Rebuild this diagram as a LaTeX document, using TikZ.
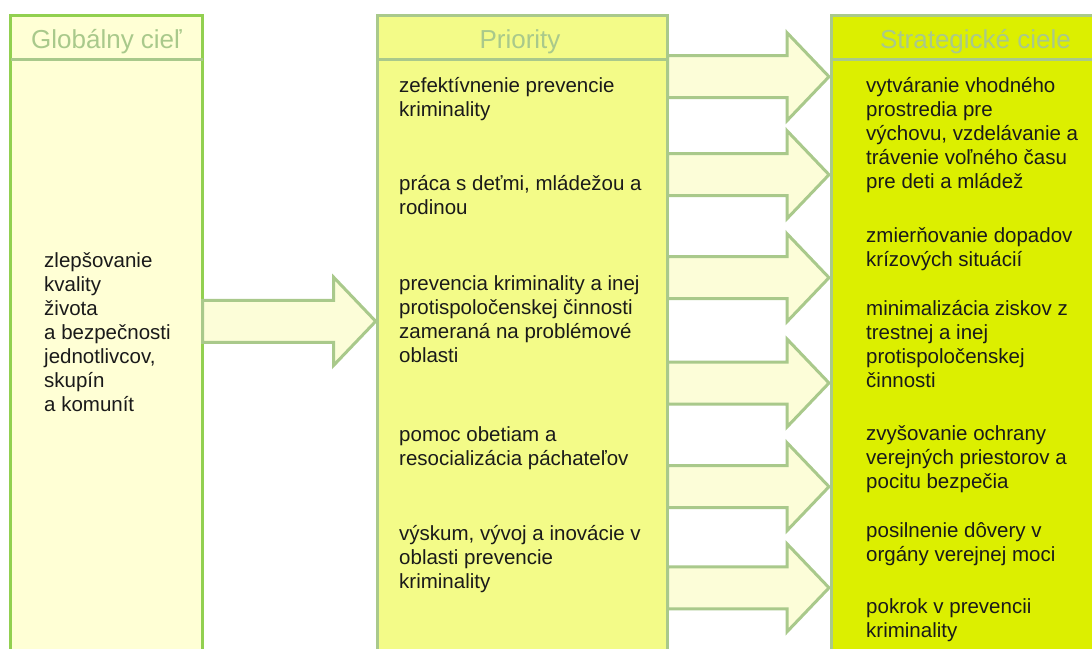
\documentclass[tikz,border=0pt]{standalone}
\usepackage{fontspec}
\setmainfont{Liberation Sans}
\usetikzlibrary{calc}
\definecolor{grayline}{HTML}{A9C98B}
\definecolor{brightline}{HTML}{92D050}
\definecolor{leftfill}{HTML}{FFFFD5}
\definecolor{arrfill}{HTML}{FCFDD8}
\definecolor{midfill}{HTML}{F3FB88}
\definecolor{rightfill}{HTML}{DCEF00}
\definecolor{headtext}{HTML}{A9C98B}
\definecolor{bodytext}{HTML}{1A1A1A}
\tikzset{
  colbox/.style={line width=3pt, inner sep=0pt, outer sep=0pt, anchor=north west},
  headline/.style={draw=grayline, line width=3pt},
  headlabel/.style={anchor=base, text=headtext, font=\fontsize{26}{30}\selectfont, inner sep=0pt},
  bodylabel/.style={anchor=base west, align=left, text=bodytext, font=\fontsize{20.5}{24}\selectfont, inner sep=0pt},
  arrowsty/.style={draw=grayline, fill=arrfill, line width=3pt, line join=miter}
}
\newcommand\blockarr[3]{%
  \draw[arrowsty] let \p1=(#1 |- 0,#3), \p2=(#2 |- 0,#3) in
   (\x1,\y1+21pt) -- (\x2-44pt,\y1+21pt) -- (\x2-44pt,\y1+44pt) -- (\x2-2pt,\y1)
   -- (\x2-44pt,\y1-44pt) -- (\x2-44pt,\y1-21pt) -- (\x1,\y1-21pt) -- cycle;}
\begin{document}
\begin{tikzpicture}[x=1pt,y=-1pt]
\useasboundingbox (0,0) rectangle (1092,648);
\clip (0,0) rectangle (1092,648);
\fill[white] (0,0) rectangle (1092,648);
% column boxes
\node[colbox, draw=brightline, fill=leftfill, minimum width=192pt, minimum height=700pt] (g) at (10.5,15.5) {};
\node[colbox, draw=grayline, fill=midfill, minimum width=290pt, minimum height=700pt] (m) at (377.7,15.7) {};
\node[colbox, draw=grayline, fill=rightfill, minimum width=290pt, minimum height=700pt] (s) at (831,15.7) {};
% header separators
\draw[headline] (g.west |- 0,59.7) -- (g.east |- 0,59.7);
\draw[headline] (m.west |- 0,59.7) -- (m.east |- 0,59.7);
\draw[headline] (s.west |- 0,59.7) -- (s.east |- 0,59.7);
% headers
\node[headlabel] (gh) at (106.5,48.3) {Globálny cieľ};
\node[headlabel] (mh) at (520,48.3) {Priority};
\node[headlabel] (sh) at (975.5,48.3) {Strategické ciele};
% arrows
\blockarr{g.east}{m.west}{321.3}
\blockarr{m.east}{s.west}{76.7}
\blockarr{m.east}{s.west}{174.7}
\blockarr{m.east}{s.west}{277.7}
\blockarr{m.east}{s.west}{383}
\blockarr{m.east}{s.west}{486.7}
\blockarr{m.east}{s.west}{587.8}
% texts (anchor = baseline of the last line)
\node[bodylabel] (gt) at (44,411) {zlepšovanie\\kvality\\života\\a bezpečnosti\\jednotlivcov,\\skupín\\a komunít};
\node[bodylabel] (p1) at (399,116) {zefektívnenie prevencie\\kriminality};
\node[bodylabel] (p2) at (399,214) {práca s deťmi, mládežou a\\rodinou};
\node[bodylabel] (p3) at (399,362) {prevencia kriminality a inej\\protispoločenskej činnosti\\zameraná na problémové\\oblasti};
\node[bodylabel] (p4) at (399,465) {pomoc obetiam a\\resocializácia páchateľov};
\node[bodylabel] (p5) at (399,588) {výskum, vývoj a inovácie v\\oblasti prevencie\\kriminality};
\node[bodylabel] (c1) at (866,188) {vytváranie vhodného\\prostredia pre\\výchovu, vzdelávanie a\\trávenie voľného času\\pre deti a mládež};
\node[bodylabel] (c2) at (866,266) {zmierňovanie dopadov\\krízových situácií};
\node[bodylabel] (c3) at (866,387) {minimalizácia ziskov z\\trestnej a inej\\protispoločenskej\\činnosti};
\node[bodylabel] (c4) at (866,488) {zvyšovanie ochrany\\verejných priestorov a\\pocitu bezpečia};
\node[bodylabel] (c5) at (866,561) {posilnenie dôvery v\\orgány verejnej moci};
\node[bodylabel] (c6) at (866,637) {pokrok v prevencii\\kriminality};
\end{tikzpicture}
\end{document}
